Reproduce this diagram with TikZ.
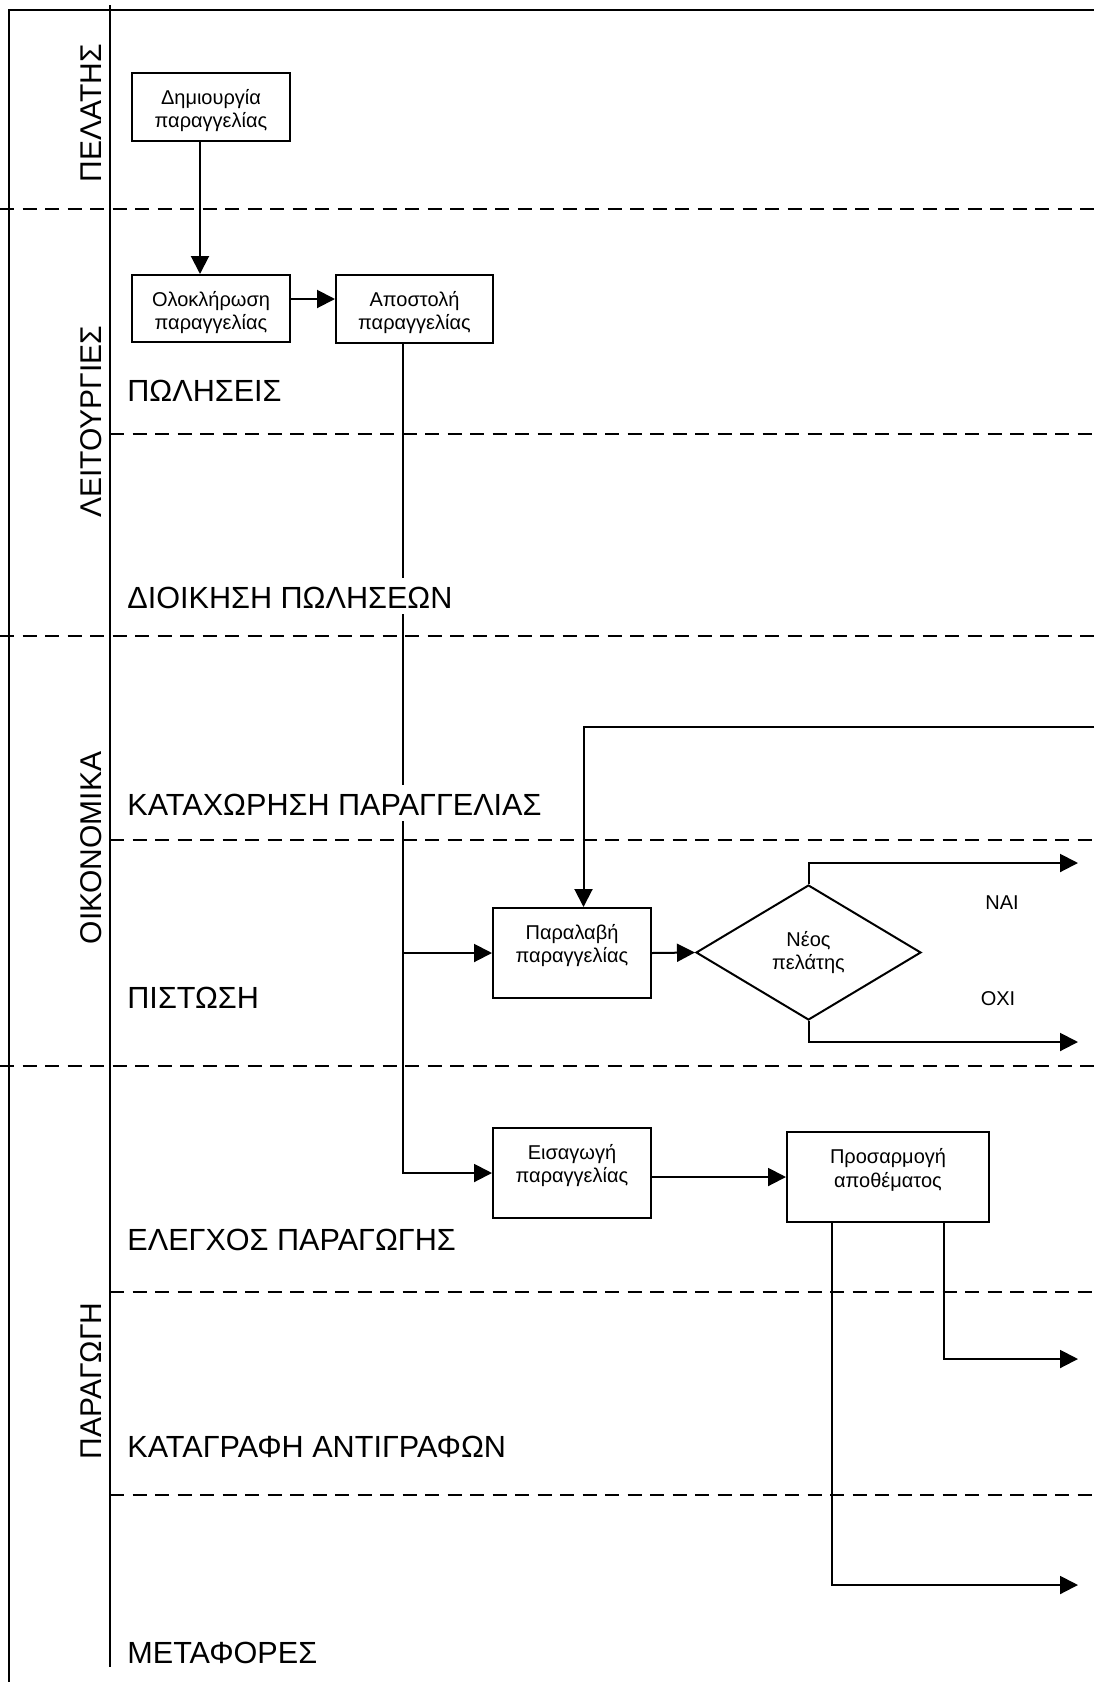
\documentclass[tikz,border=0pt]{standalone}
\usepackage{fontspec}
\setmainfont{Liberation Sans}
\usetikzlibrary{arrows.meta,shapes.geometric}
\begin{document}
\begin{tikzpicture}[x=0.5pt,y=-0.5pt,
  conn/.style={line width=1pt,-{Triangle[length=9pt,width=9pt]}},
  frameline/.style={line width=1.3pt},
  lanesep/.style={line width=0.9pt,dash pattern=on 7pt off 4.25pt},
  stepbox/.style={draw,line width=1pt,inner sep=0pt},
  steptext/.style={inner sep=0pt,align=center,
    font=\fontsize{10}{11.8}\selectfont},
  decision/.style={draw,diamond,line width=1pt,inner sep=0pt,align=center,
    font=\fontsize{10}{11.8}\selectfont},
  sublane/.style={anchor=base west,fill=white,inner sep=0pt,
    text height=15pt,text depth=3pt,font=\fontsize{15.3}{18}\selectfont},
  grouplabel/.style={rotate=90,anchor=base,inner sep=0pt,
    font=\fontsize{15}{18}\selectfont},
  answer/.style={inner sep=0pt,font=\fontsize{10}{12}\selectfont}]

\useasboundingbox (0,0) rectangle (1094,1682);

% lane separators: full width between groups, from the inner rule within a group
\draw[lanesep] (0,209) -- (1094,209);
\draw[lanesep] (0,636) -- (1094,636);
\draw[lanesep] (0,1066) -- (1094,1066);
\draw[lanesep] (110,434) -- (1094,434);
\draw[lanesep] (110,840) -- (1094,840);
\draw[lanesep] (110,1292) -- (1094,1292);
\draw[lanesep] (110,1495) -- (1094,1495);

% outer frame and the rule between group titles and lanes
\draw[frameline] (9,1682) -- (9,10) -- (1094,10);
\draw[frameline] (110,5) -- (110,1667);

% process steps (boxes, with their text set a fixed distance below the top edge)
\node[stepbox,minimum width=79pt,minimum height=34pt] (create) at (211,107) {};
\node[stepbox,minimum width=79pt,minimum height=33.5pt] (complete) at (211,308.5) {};
\node[stepbox,minimum width=78.5pt,minimum height=34pt] (send) at (414.5,309) {};
\node[stepbox,minimum width=79pt,minimum height=45pt] (receive) at (572,953) {};
\node[stepbox,minimum width=79pt,minimum height=45pt] (enter) at (572,1173) {};
\node[stepbox,minimum width=101pt,minimum height=45pt] (stock) at (888,1177) {};
\node[decision,minimum width=112.5pt,minimum height=67.5pt] (newcust) at (808.5,952.5) {Νέος\\πελάτης};

\node[steptext] (createtxt) at ([yshift=-19.3pt]create.north) {Δημιουργία\\παραγγελίας};
\node[steptext] (completetxt) at ([yshift=-19.3pt]complete.north) {Ολοκλήρωση\\παραγγελίας};
\node[steptext] (sendtxt) at ([yshift=-19.3pt]send.north) {Αποστολή\\παραγγελίας};
\node[steptext] (receivetxt) at ([yshift=-19.3pt]receive.north) {Παραλαβή\\παραγγελίας};
\node[steptext] (entertxt) at ([yshift=-19.3pt]enter.north) {Εισαγωγή\\παραγγελίας};
\node[steptext] (stocktxt) at ([yshift=-19.3pt]stock.north) {Προσαρμογή\\αποθέματος};

% helper coordinates for connector routing
\coordinate (xa) at (200,0);
\coordinate (ya) at (0,299);
\coordinate (xb) at (403,0);
\coordinate (xc) at (583.5,0);
\coordinate (xd) at (832,0);
\coordinate (xe) at (944,0);
\coordinate (loopin) at (1094,727);
\coordinate (yesend) at (1078,863);
\coordinate (noend) at (1078,1042);
\coordinate (out1) at (1078,1359);
\coordinate (out2) at (1078,1585);

% connectors
\draw[conn] (create.south -| xa) -- (complete.north -| xa);
\draw[conn] (complete.east |- ya) -- (send.west |- ya);
\draw[conn] (send.south -| xb) |- (enter.west);
\draw[conn] (xb |- receive.west) -- (receive.west);
\draw[conn] (loopin) -| (receive.north -| xc);
\draw[conn] (receive.east) -- (newcust.west);
\draw[conn] (newcust.north) |- (yesend);
\draw[conn] (newcust.south) |- (noend);
\draw[conn] (enter.east |- stock.west) -- (stock.west);
\draw[conn] (stock.south -| xe) |- (out1);
\draw[conn] (stock.south -| xd) |- (out2);

% decision answers
\node[answer] (yes) at (1002,903) {ΝΑΙ};
\node[answer] (no) at (998,999) {ΟΧΙ};

% group titles
\node[grouplabel] (g1) at (101,113) {ΠΕΛΑΤΗΣ};
\node[grouplabel] (g2) at (101,422) {ΛΕΙΤΟΥΡΓΙΕΣ};
\node[grouplabel] (g3) at (101,848) {ΟΙΚΟΝΟΜΙΚΑ};
\node[grouplabel] (g4) at (101,1381) {ΠΑΡΑΓΩΓΗ};

% lane titles
\node[sublane] (s1) at (127,401) {ΠΩΛΗΣΕΙΣ};
\node[sublane] (s2) at (127,608) {ΔΙΟΙΚΗΣΗ ΠΩΛΗΣΕΩΝ};
\node[sublane] (s3) at (127,815) {ΚΑΤΑΧΩΡΗΣΗ ΠΑΡΑΓΓΕΛΙΑΣ};
\node[sublane] (s4) at (127,1008) {ΠΙΣΤΩΣΗ};
\node[sublane] (s5) at (127,1250) {ΕΛΕΓΧΟΣ ΠΑΡΑΓΩΓΗΣ};
\node[sublane] (s6) at (127,1457) {ΚΑΤΑΓΡΑΦΗ ΑΝΤΙΓΡΑΦΩΝ};
\node[sublane] (s7) at (127,1663) {ΜΕΤΑΦΟΡΕΣ};
\end{tikzpicture}
\end{document}
